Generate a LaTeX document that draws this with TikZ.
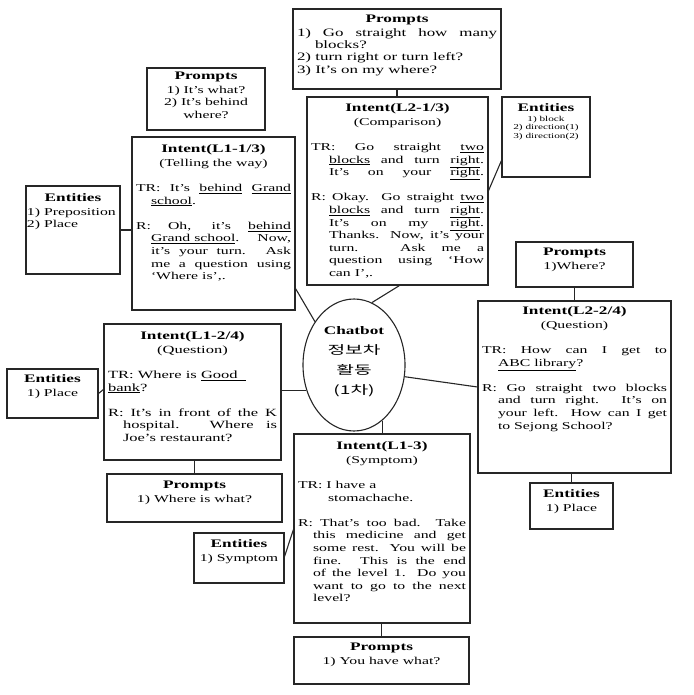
\documentclass[tikz,border=0pt]{standalone}
\usepackage{fontspec}
\setmainfont{Liberation Serif}[FakeStretch=1.5]
\newfontfamily\krfont{Noto Sans CJK KR}[FakeStretch=1.6]
\usetikzlibrary{fit,calc,shapes.geometric}
\newcommand\hd[1]{\par{\centering\fontsize{11.5}{13}\selectfont\bfseries #1\par}\vspace{1pt}}
\newcommand\ctr[1]{\par{\centering #1\par}}
\newcommand\pp[2]{\par{\leftskip=0pt\rightskip=0pt\parfillskip=0pt plus 1fil\hangindent=#1\hangafter=1\noindent #2\par}}
\newcommand\ppj[2]{\par{\leftskip=0pt\rightskip=0pt\parfillskip=0pt\hangindent=#1\hangafter=1\noindent #2\par}}
\newcommand\gap{\par\vspace{12.6pt}}
\newcommand\uln[1]{\underline{#1}}
\begin{document}
\begin{tikzpicture}[x=1pt,y=-1pt,
  box/.style={draw=black!85, line width=1.1pt, inner sep=0pt},
  txt/.style={anchor=north, inner sep=0pt, align=justify, font=\fontsize{10.5}{12.6}\selectfont},
  link/.style={draw=black!85, line width=1.1pt}]
\useasboundingbox (0,0) rectangle (693,695);

% ---------- boxes ----------
\node[box, fit={(293,9) (501,89)}]   (pt)  {};
\node[box, fit={(147,68) (265,130)}] (pl)  {};
\node[box, fit={(132,137) (295,310)}] (l11) {};
\node[box, fit={(26,186) (120,274)}] (e1)  {};
\node[box, fit={(307,97) (488,285)}] (l21) {};
\node[box, fit={(502,97) (590,177)}] (er1) {};
\node[box, fit={(516,242) (633,287)}] (pr) {};
\node[box, fit={(478,301) (671,473)}] (l22) {};
\node[box, fit={(530,483) (613,529)}] (er2) {};
\node[box, fit={(104,324) (281,460)}] (l12) {};
\node[box, fit={(7,369) (98,418)}]   (e2)  {};
\node[box, fit={(107,474) (282,522)}] (pq) {};
\node[box, fit={(194,533) (284,583)}] (es) {};
\node[box, fit={(294,434) (470,623)}] (l13) {};
\node[box, fit={(294,637) (469,684)}] (pb) {};
\node[draw=black!85, line width=1.1pt, ellipse, minimum width=102pt, minimum height=132pt, inner sep=0pt] (chat) at (354,365) {};

% ---------- texts ----------
\node[txt, text width=200pt, font=\fontsize{11.3}{12.4}\selectfont] (ptt) at ($(pt.north)+(0,1)$) {%
\hd{Prompts}
\pp{18pt}{1) Go straight how many\linebreak blocks?}
\pp{0pt}{2) turn right or turn left?}
\pp{0pt}{3) It's on my where?}};

\node[txt, text width=110pt] (plt) at ($(pl.north)+(0,-1)$) {%
\hd{Prompts}
\ctr{1) It's what?}
\ctr{2) It's behind}
\ctr{where?}};

\node[txt, text width=155pt] (l11t) at ($(l11.north)+(0,3)$) {%
\hd{Intent(L1-1/3)}
\ctr{(Telling the way)}
\gap
\pp{15pt}{TR: It's \uln{behind} \uln{Grand}\linebreak \uln{school}.}
\gap
\pp{15pt}{R: Oh, it's \uln{behind}\linebreak \uln{Grand school}. Now,\linebreak it's your turn. Ask\linebreak me a question using\linebreak `Where is',.}};

\node[txt, text width=92pt] (e1t) at ($(e1.north)+(0,3)$) {%
\hd{Entities}
{\raggedright 1) Preposition\\ 2) Place\par}};

\node[txt, text width=173pt] (l21t) at ($(l21.north)+(0,2)$) {%
\hd{Intent(L2-1/3)}
\ctr{(Comparison)}
\gap
\ppj{18pt}{TR: Go straight \uln{two}\linebreak \uln{blocks} and turn \uln{right}.\linebreak It's on your \uln{right}.}
\gap
\pp{18pt}{R: Okay. Go straight \uln{two}\linebreak \uln{blocks} and turn \uln{right}.\linebreak It's on my \uln{right}.\linebreak Thanks. Now, it's your\linebreak turn. Ask me a\linebreak question using `How\linebreak can I',.}};

\node[txt, text width=84pt] (er1t) at ($(er1.north)+(0,2)$) {%
\hd{Entities}
{\fontsize{7.5}{8.5}\selectfont\centering 1) block\\ 2) direction(1)\\ 3) direction(2)\par}};

\node[txt, text width=109pt] (prt) at ($(pr.north)+(0,1)$) {%
\hd{Prompts}
\ctr{1)Where?}};

\node[txt, text width=185pt] (l22t) at ($(l22.north)+(0,1)$) {%
\hd{Intent(L2-2/4)}
\ctr{(Question)}
\gap
\pp{16pt}{TR: How can I get to\linebreak \uln{ABC library}?}
\gap
\pp{16pt}{R: Go straight two blocks\linebreak and turn right. It's on\linebreak your left. How can I get\linebreak to Sejong School?}};

\node[txt, text width=79pt] (er2t) at ($(er2.north)+(0,2)$) {%
\hd{Entities}
\ctr{1) Place}};

\node[txt, text width=169pt, font=\fontsize{11}{12.6}\selectfont] (l12t) at ($(l12.north)+(0,3)$) {%
\hd{Intent(L1-2/4)}
\ctr{(Question)}
\gap
\pp{0pt}{TR: Where is \uln{Good\hspace{8pt}}\newline \uln{bank}?}
\gap
\pp{15pt}{R: It's in front of the K\linebreak hospital. Where is\linebreak Joe's restaurant?}};

\node[txt, text width=85pt] (e2t) at ($(e2.north)+(0,1)$) {%
\hd{Entities}
\ctr{1) Place}};

\node[txt, text width=167pt] (pqt) at ($(pq.north)+(0,2)$) {%
\hd{Prompts}
\ctr{1) Where is what?}};

\node[txt, text width=86pt] (est) at ($(es.north)+(0,2)$) {%
\hd{Entities}
\ctr{1) Symptom}};

\node[txt, text width=168pt] (l13t) at ($(l13.north)+(0,3)$) {%
\hd{Intent(L1-3)}
\ctr{(Symptom)}
\gap
\pp{30pt}{TR: I have a\newline stomachache.}
\gap
\pp{15pt}{R: That's too bad. Take\linebreak this medicine and get\linebreak some rest. You will be\linebreak fine. This is the end\linebreak of the level 1. Do you\linebreak want to go to the next\linebreak level?}};

\node[txt, text width=167pt] (pbt) at ($(pb.north)+(0,1)$) {%
\hd{Prompts}
\ctr{1) You have what?}};

\node[align=center, inner sep=0pt, font=\fontsize{11.5}{20}\selectfont] (chatt) at (354,362)
  {\textbf{Chatbot}\\ {\krfont\fontsize{12}{20}\selectfont 정보차}\\ {\krfont\fontsize{12}{20}\selectfont 활동}\\ {\krfont\fontsize{12}{20}\selectfont (1차)}};

% ---------- connectors ----------
\draw[link] (pt.south) -- (pt.south |- l21.north);
\draw[link] ($(pl.south west)+(66,0)$) -- ($(pl.south west)+(66,0)$ |- l11.north);
\draw[link] (e1.east) -- (e1.east -| l11.west);
\draw[link] ($(l21.south east)+(0,-95)$) -- ($(er1.south west)+(0,-17)$);
\draw[link] ($(l11.south east)+(0,-22)$) -- (chat.132);
\draw[link] (chat.74) -- ($(l21.south west)+(93,0)$);
\draw[link] (chat.208) -- (chat.208 -| l12.east);
\draw[link] (chat.-13) -- (l22.west);
\draw[link] (chat.-63) -- (chat.-63 |- l13.north);
\draw[link] (pr.south) -- (pr.south |- l22.north);
\draw[link] (er2.north) -- (er2.north |- l22.south);
\draw[link] (e2.east) -- ($(l12.north west)+(0,66)$);
\draw[link] (pq.north) -- (pq.north |- l12.south);
\draw[link] ($(es.north east)+(0,24)$) -- ($(l13.north west)+(0,96)$);
\draw[link] (pb.north) -- (pb.north |- l13.south);
\end{tikzpicture}
\end{document}
